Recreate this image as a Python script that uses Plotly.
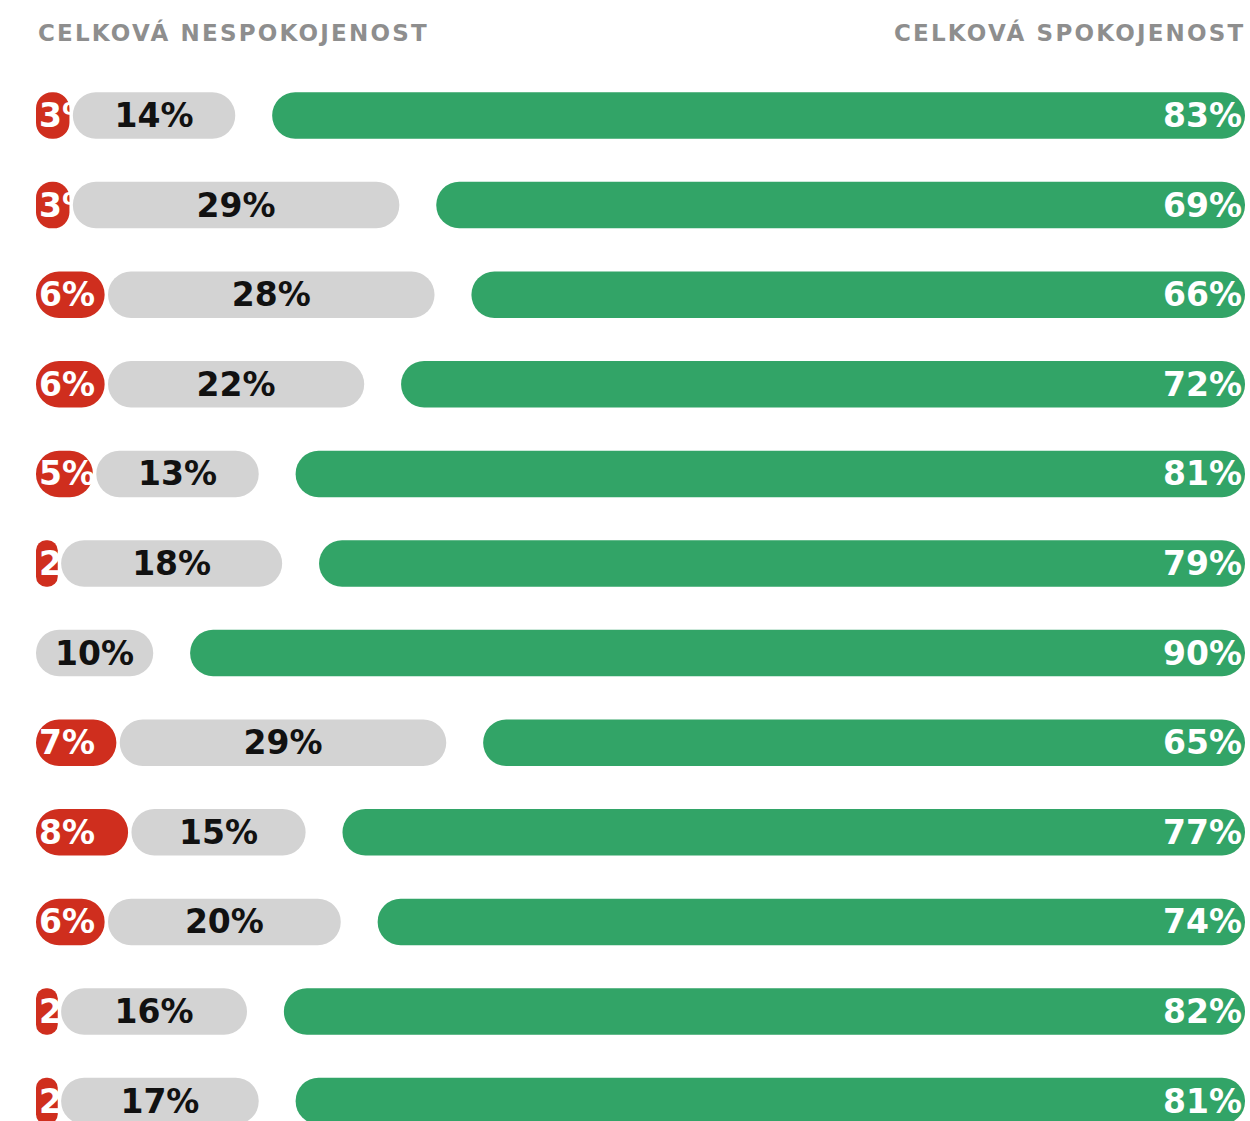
import plotly.graph_objects as go

# ---------------- data ----------------
rows = list(range(12))
dissatisfied = [3, 3, 6, 6, 5, 2, 0, 7, 8, 6, 2, 2]
neutral = [14, 29, 28, 22, 13, 18, 10, 29, 15, 20, 16, 17]
satisfied = [83, 69, 66, 72, 81, 79, 90, 65, 77, 74, 82, 81]
header_left = "CELKOVÁ NESPOKOJENOST"
header_right = "CELKOVÁ SPOKOJENOST"

# ---------------- layout constants ----------------
W, H = 1250, 1121
M_L, M_R, M_T, M_B = 36, 5, 70, 0
TOTAL = 100
X_MAX = 103.15
ROW_PX = 89.6
FIRST_ROW_PX = 115.5
BAR_PX = 46.5
INSET_PX = 1.7

RED = "#cf2e1e"
GRAY = "#d3d3d3"
GREEN = "#32a467"
HEAD_COLOR = "#8e8e8e"
LABEL_FONT = "DejaVu Sans"
LABEL_SIZE = 33
HEAD_SIZE = 23
HEAD_SPACING = 2.2

plot_w = W - M_L - M_R
plot_h = H - M_T - M_B
px_per_unit = plot_w / X_MAX
y_top = -(FIRST_ROW_PX - M_T) / ROW_PX
y_bottom = y_top + plot_h / ROW_PX
bar_w = BAR_PX / ROW_PX
inset = INSET_PX / px_per_unit

fig = go.Figure()


def pill(y, starts, ends, color, radius):
    fig.add_trace(go.Bar(
        y=y, x=[e - s for s, e in zip(starts, ends)], base=starts, orientation="h",
        width=bar_w,
        marker=dict(color=color, cornerradius=radius, line=dict(width=0)),
        hoverinfo="skip", showlegend=False,
    ))


def text_carrier(starts, ends, labels, anchor, color):
    fig.add_trace(go.Bar(
        y=rows, x=[e - s for s, e in zip(starts, ends)], base=starts, orientation="h",
        width=bar_w, marker=dict(color="rgba(0,0,0,0)", line=dict(width=0)),
        text=labels, textposition="inside", insidetextanchor=anchor, textangle=0,
        constraintext="none",
        textfont=dict(family=LABEL_FONT, size=LABEL_SIZE, color=color, weight="bold"),
        hoverinfo="skip", showlegend=False,
    ))


# red segments (dissatisfied); one trace per row so rounding fits short pills
red_start = [0 for _ in rows]
red_end = [r - inset if r > 0 else 0 for r in dissatisfied]
for i in rows:
    if dissatisfied[i] <= 0:
        continue
    half_px = (red_end[i] - red_start[i]) / 2 * px_per_unit
    pill([i], [red_start[i]], [red_end[i]], RED, min(BAR_PX / 2, half_px))
text_carrier(red_start, red_end,
             [f"{v}%" if v > 0 else "" for v in dissatisfied], "start", "white")

# gray segments (neutral) fill the remaining share up to the satisfied part
gray_start = [r + inset if r > 0 else 0 for r in dissatisfied]
gray_end = [TOTAL - g for g in satisfied]
pill(rows, gray_start, gray_end, GRAY, BAR_PX / 2)
text_carrier(gray_start, gray_end, [f"{v}%" for v in neutral], "middle", "#111111")

# green segments (satisfied), right aligned
green_start = [X_MAX - g for g in satisfied]
green_end = [X_MAX for _ in satisfied]
pill(rows, green_start, green_end, GREEN, BAR_PX / 2)
text_carrier(green_start, green_end, [f"{v}%" for v in satisfied], "end", "white")

head_y = 1 + (M_T - 32) / plot_h
head_font = dict(family="DejaVu Sans", size=HEAD_SIZE, color=HEAD_COLOR, weight="bold")
fig.add_annotation(text=f'<span style="letter-spacing:{HEAD_SPACING}px">{header_left}</span>',
                   xref="paper", yref="paper", x=0, y=head_y,
                   xanchor="left", yanchor="middle", showarrow=False, font=head_font)
fig.add_annotation(text=f'<span style="letter-spacing:{HEAD_SPACING}px">{header_right}</span>',
                   xref="paper", yref="paper", x=1, y=head_y, xshift=HEAD_SPACING,
                   xanchor="right", yanchor="middle", showarrow=False, font=head_font)

fig.update_layout(
    width=W, height=H, barmode="overlay",
    margin=dict(l=M_L, r=M_R, t=M_T, b=M_B, pad=0),
    paper_bgcolor="white", plot_bgcolor="white",
    xaxis=dict(range=[0, X_MAX], visible=False, fixedrange=True),
    yaxis=dict(range=[y_bottom, y_top], visible=False, fixedrange=True),
    showlegend=False,
)

fig.write_html("out.html", config={"displayModeBar": False},
               post_script="document.body.style.margin='0';")
